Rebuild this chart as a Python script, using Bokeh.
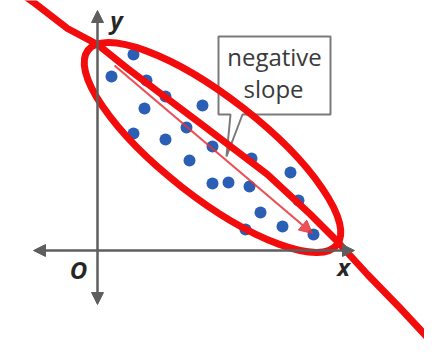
from bokeh.plotting import figure
from bokeh.models import Range1d, Arrow, NormalHead, Span, BoxAnnotation
from bokeh.core.properties import value
from bokeh.embed import file_html
from bokeh.resources import INLINE

# scatter data (arbitrary units)
pts_x = [1.8, 0.7, 2.45, 3.4, 2.35, 5.25, 1.8, 3.4, 4.45, 5.75, 7.7,
         4.6, 9.65, 5.75, 6.55, 7.6, 10.05, 8.15, 9.25, 7.4, 10.8]
pts_y = [9.8, 8.7, 8.5, 7.7, 7.1, 7.25, 5.85, 5.55, 6.15, 5.2, 4.6,
         4.5, 3.9, 3.35, 3.4, 3.2, 2.5, 1.9, 1.2, 1.05, 0.8]

# hand-drawn line of fit (red)
fit_x = [-4.85, -3.25, -1.5, 0.0, 1.5, 3.15, 5.15, 8.5, 10.65, 11.9, 13.5, 15.15, 17.15, 17.9]
fit_y = [13.55, 12.45, 11.1, 10.3, 9.1, 7.85, 6.35, 3.8, 1.8, 0.55, -1.2, -2.9, -5.05, -5.85]

# trend arrow
trend_start = (0.85, 9.25)
trend_end = (10.75, 0.85)

# ellipse around the cloud
ell_center = (5.75, 5.15)
ell_width = 15.8
ell_height = 5.0
ell_angle = -0.663

# axes extents
x_axis_ext = (-3.2, 12.85)
y_axis_ext = (-2.7, 12.0)

# callout box
box_x = [6.65, 6.05, 6.05, 11.65, 11.65, 7.25, 6.45, 6.65]
box_y = [6.8, 6.8, 10.7, 10.7, 6.8, 6.8, 4.7, 6.8]
callout_lines = ["negative", "slope"]
callout_x = [8.85, 8.8]
callout_y = [9.7, 8.1]

RED = "#f20c0c"
GRAY = "#5e5e5e"

p = figure(width=424, height=344, output_backend="svg", toolbar_location=None,
           x_range=Range1d(-4.85, 16.35), y_range=Range1d(-4.7, 12.5),
           x_axis_type=None, y_axis_type=None, min_border=0,
           outline_line_color=None, background_fill_color="white",
           border_fill_color="white")
p.grid.visible = False

# page-edge decorations
p.add_layout(BoxAnnotation(top=-4.93, fill_color="#ebebeb", fill_alpha=1.0, line_color=None))
p.add_layout(Span(location=-4.85, dimension="width", line_color="#a8a8a8", line_width=2))
p.add_layout(Span(location=16.55, dimension="height", line_color="#a8a8a8", line_width=1.5))

# axes with arrowheads
p.add_layout(Arrow(x_start=x_axis_ext[0], y_start=0, x_end=x_axis_ext[1], y_end=0,
                   line_color=GRAY, line_width=2.5,
                   start=NormalHead(size=12, fill_color=GRAY, line_color=GRAY),
                   end=NormalHead(size=12, fill_color=GRAY, line_color=GRAY)))
p.add_layout(Arrow(x_start=0, y_start=y_axis_ext[0], x_end=0, y_end=y_axis_ext[1],
                   line_color=GRAY, line_width=2.5,
                   start=NormalHead(size=12, fill_color=GRAY, line_color=GRAY),
                   end=NormalHead(size=12, fill_color=GRAY, line_color=GRAY)))

lab_font = value("Open Sans")
p.text(x=[0.95], y=[11.55], text=["y"], text_font=lab_font, text_font_size="24px",
       text_font_style="bold italic", text_color="#262626", text_align="center",
       text_baseline="alphabetic")
p.text(x=[-0.95], y=[-0.95], text=["O"], text_font=lab_font, text_font_size="24px",
       text_font_style="bold italic", text_color="#262626", text_align="center",
       text_baseline="alphabetic")
p.text(x=[12.3], y=[-0.8], text=["x"], text_font=lab_font, text_font_size="24px",
       text_font_style="bold italic", text_color="#262626", text_align="center",
       text_baseline="alphabetic")

# callout
p.patch(box_x, box_y, fill_color="white", line_color="#7a7a7a", line_width=2)
p.text(x=callout_x, y=callout_y, text=callout_lines, text_font=lab_font,
       text_font_size="24px", text_color="#3a3a3a", text_align="center",
       text_baseline="alphabetic")

# scatter points
p.scatter(pts_x, pts_y, size=12, fill_color="#2a5fb5", line_color=None)

# trend arrow
p.add_layout(Arrow(x_start=trend_start[0], y_start=trend_start[1],
                   x_end=trend_end[0], y_end=trend_end[1],
                   line_color="#e8323a", line_width=2.2, line_alpha=0.85,
                   end=NormalHead(size=13, fill_color="#e8323a", line_color="#e8323a",
                                  fill_alpha=0.85, line_alpha=0.85)))

# ellipse and fit line
p.ellipse(x=[ell_center[0]], y=[ell_center[1]], width=ell_width, height=ell_height,
          angle=ell_angle, fill_color=None, line_color=RED, line_width=7)
p.line(fit_x, fit_y, line_color=RED, line_width=7, line_join="round", line_cap="round")

open("out.html", "w").write(file_html(p, INLINE))
